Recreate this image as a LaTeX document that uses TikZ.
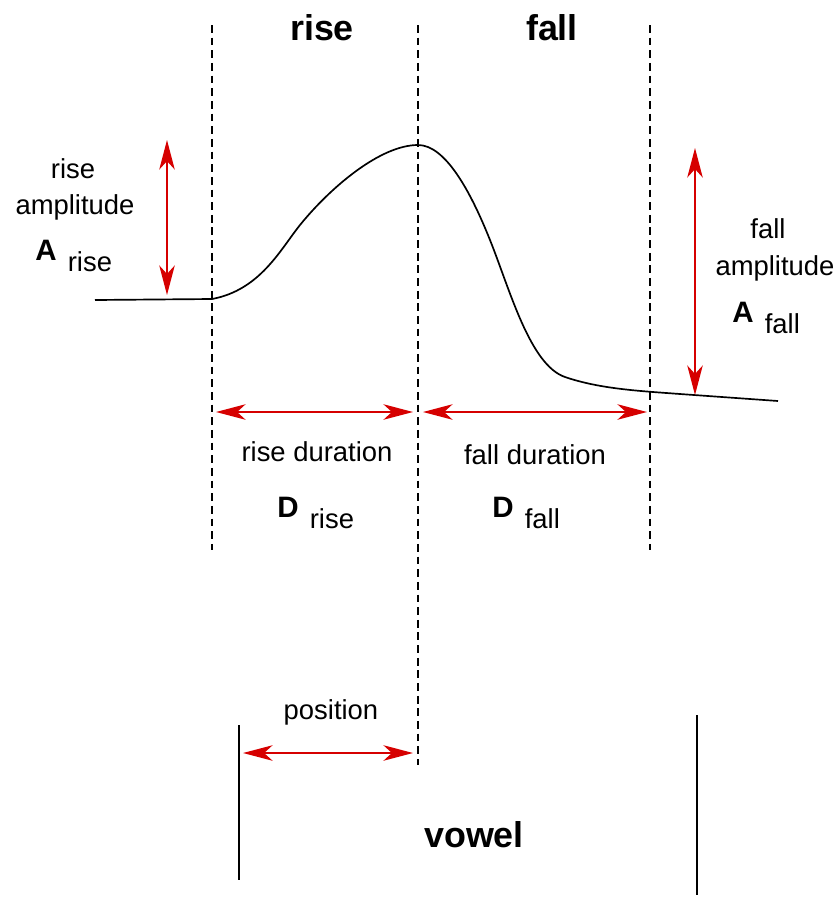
\documentclass[tikz,border=0pt]{standalone}
\usepackage{fontspec}
\setmainfont{Liberation Sans}
\usetikzlibrary{arrows.meta}

\definecolor{dimred}{RGB}{214,0,0}
% bold symbol followed by its lowered index word
\newcommand{\symidx}[2]{\textbf{\fontsize{21}{24}\selectfont #1}\hspace{8pt}\raisebox{-8pt}{#2}}

\begin{document}
\begin{tikzpicture}[x=0.025cm, y=-0.025cm,
  guide/.style={dash pattern=on 5.5pt off 3.5pt, line width=0.9pt},
  wall/.style={line width=1.1pt},
  contour/.style={line width=1.2pt, line join=round},
  dimarr/.style={{Stealth[length=21pt,width=11pt,inset=6pt]}-{Stealth[length=21pt,width=11pt,inset=6pt]},
                 dimred, line width=1.4pt},
  lbl/.style={font=\fontsize{19.5}{23}\selectfont, inner sep=0pt, anchor=base},
  head/.style={font=\fontsize{25.5}{30}\selectfont\bfseries, inner sep=0pt, anchor=base},
  sym/.style={font=\fontsize{19.5}{23}\selectfont, inner sep=0pt, anchor=base west}]

\useasboundingbox (0,0) rectangle (840,897);

% Segment boundaries (dashed)
\coordinate (onT)  at (212,25);  \coordinate (onB)  at (212,550);
\coordinate (pkT)  at (418,25);  \coordinate (pkB)  at (418,765);
\coordinate (offT) at (650,25);  \coordinate (offB) at (650,550);
\draw[guide] (onT)  -- (onB);
\draw[guide] (pkT)  -- (pkB);
\draw[guide] (offT) -- (offB);

% Vowel boundaries
\coordinate (vowLT) at (239,725); \coordinate (vowLB) at (239,880);
\coordinate (vowRT) at (697,715); \coordinate (vowRB) at (697,895);
\draw[wall] (vowLT) -- (vowLB);
\draw[wall] (vowRT) -- (vowRB);

% Pitch contour
\coordinate (start) at (95,300);
\coordinate (onset) at (212,299);
\coordinate (peak)  at (418,145);
\coordinate (tail)  at (778,401);
\draw[contour] (start) -- (onset)
  .. controls (260,290) and (280,250) .. (300,225)
  .. controls (330,188) and (380,145) .. (peak)
  .. controls (445,145) and (470,190) .. (490,240)
  .. controls (510,290) and (530,365) .. (565,377)
  .. controls (600,389) and (640,391) .. (680,394)
  -- (tail);

% Amplitudes
\coordinate (ampRT) at (167,140); \coordinate (ampRB) at (167,295);
\coordinate (ampFT) at (695,148); \coordinate (ampFB) at (695,395);
\draw[dimarr] (ampRT) -- (ampRB);
\draw[dimarr] (ampFT) -- (ampFB);

% Durations and position
\coordinate (durRL) at (216,412); \coordinate (durRR) at (413,412);
\coordinate (durFL) at (423,412); \coordinate (durFR) at (647,412);
\coordinate (posL)  at (243,753); \coordinate (posR)  at (413,753);
\draw[dimarr] (durRL) -- (durRR);
\draw[dimarr] (durFL) -- (durFR);
\draw[dimarr] (posL)  -- (posR);

% Labels
\node[head] (riseT) at (322,40) {rise};
\node[head] (fallT) at (552,40) {fall};

\node[lbl] (riseAmp1) at (73,178) {rise};
\node[lbl] (riseAmp2) at (75,214) {amplitude};
\node[sym] (Arise)    at (35,260) {\symidx{A}{rise}};

\node[lbl] (fallAmp1) at (768,238) {fall};
\node[lbl] (fallAmp2) at (775,275) {amplitude};
\node[sym] (Afall)    at (732,322) {\symidx{A}{fall}};

\node[lbl] (riseDur) at (317,461) {rise duration};
\node[sym] (Drise)   at (277,517) {\symidx{D}{rise}};
\node[lbl] (fallDur) at (535,464) {fall duration};
\node[sym] (Dfall)   at (492,517) {\symidx{D}{fall}};

\node[lbl]  (posLbl) at (331,719) {position};
\node[head] (vowLbl) at (474,847) {vowel};
\end{tikzpicture}
\end{document}
